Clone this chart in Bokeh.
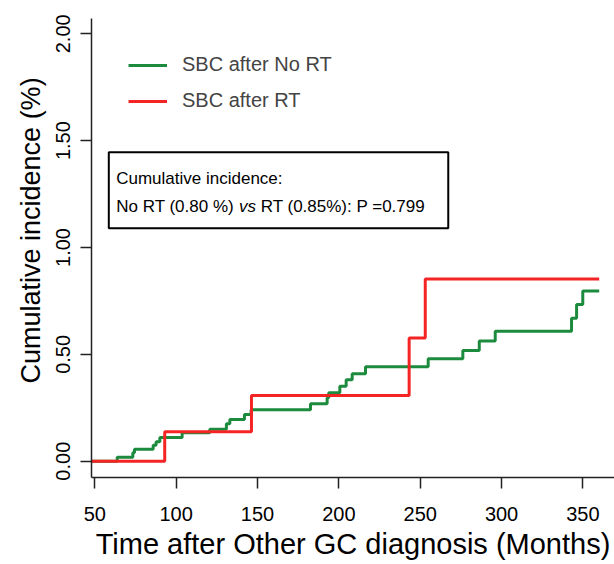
from bokeh.plotting import figure
from bokeh.models import (Range1d, FixedTicker, NumeralTickFormatter, Legend, LegendItem,
                          BoxAnnotation, Label, Title)
from bokeh.embed import file_html
from bokeh.resources import INLINE

# ---------------- data ----------------
green_time = [0, 63.8, 73.4, 74.4, 85.9, 87.7, 90.0, 103.7, 120.7, 130.9, 133.0, 142.0, 146.1,
              182.6, 192.8, 193.8, 200.6, 204.5, 208.2, 216.4, 254.9, 276.2, 286.3, 296.1,
              343.0, 346.1, 349.9, 360]
green_ci = [0, 0.019, 0.039, 0.056, 0.075, 0.091, 0.111, 0.133, 0.150, 0.175, 0.195, 0.219, 0.241,
            0.269, 0.297, 0.320, 0.351, 0.381, 0.409, 0.442, 0.479, 0.518, 0.563, 0.608,
            0.669, 0.733, 0.797, 0.797]
red_time = [0, 93.0, 146.3, 243.2, 253.1, 360]
red_ci = [0, 0.138, 0.307, 0.576, 0.853, 0.853]

x_ticks = [50, 100, 150, 200, 250, 300, 350]
y_ticks = [0.0, 0.5, 1.0, 1.5, 2.0]
series_labels = ["SBC after No RT", "SBC after RT"]
box_line1 = "Cumulative incidence:"
box_line2 = ["No RT (0.80 %)", "vs", "RT (0.85%): P =0.799"]
x_title = "Time after Other GC diagnosis (Months)"
y_title = "Cumulative incidence (%)"

FONT = "Liberation Sans"
GREEN = "#1d8b3e"
RED = "#f52424"
AXIS = "#222222"

p = figure(width=614, height=564, output_backend="svg", toolbar_location=None,
           x_range=Range1d(48.0, 369.4), y_range=Range1d(-0.0763, 2.0716),
           min_border_left=91, min_border_right=0, min_border_top=18, min_border_bottom=87)
p.outline_line_color = None
p.grid.visible = False
p.background_fill_color = "white"

for ax in (p.xaxis, p.yaxis):
    ax.axis_line_color = AXIS
    ax.axis_line_width = 1.5
    ax.major_tick_line_color = AXIS
    ax.major_tick_line_width = 1.5
    ax.major_tick_out = 11
    ax.major_tick_in = 0
    ax.minor_tick_line_color = None
    ax.major_label_text_font = FONT
    ax.major_label_text_font_size = "20px"
    ax.major_label_text_color = "black"

p.xaxis.ticker = FixedTicker(ticks=x_ticks)
p.xaxis.major_label_standoff = 18
p.yaxis.ticker = FixedTicker(ticks=y_ticks)
p.yaxis.formatter = NumeralTickFormatter(format="0.00")
p.yaxis.major_label_orientation = "vertical"
p.yaxis.major_label_standoff = 10

g = p.step(green_time, green_ci, mode="after", line_color=GREEN, line_width=3)
r = p.step(red_time, red_ci, mode="after", line_color=RED, line_width=3)

legend = Legend(items=[LegendItem(label=series_labels[0], renderers=[g]),
                       LegendItem(label=series_labels[1], renderers=[r])],
                location=(37, 365), orientation="vertical",
                padding=0, margin=0, spacing=13, glyph_width=39, glyph_height=20,
                label_standoff=15, label_text_font=FONT, label_text_font_size="20px",
                border_line_color=None, background_fill_alpha=0)
p.add_layout(legend, "center")

box = BoxAnnotation(left=58.63, right=267.24, bottom=1.0903, top=1.446,
                    fill_alpha=0, line_color="black", line_alpha=1, line_width=2)
p.add_layout(box)

tx = 63.18
p.add_layout(Label(x=tx, y=1.3215, text=box_line1, text_font=FONT, text_font_size="17px",
                   text_baseline="alphabetic", text_color="black"))
offs = [0, 122.8, 144.5]
styles = ["normal", "italic", "normal"]
for part, off, st in zip(box_line2, offs, styles):
    p.add_layout(Label(x=tx, y=1.1918, x_offset=off, text=part, text_font=FONT,
                       text_font_size="17px", text_font_style=st,
                       text_baseline="alphabetic", text_color="black"))

p.add_layout(Title(text=x_title, align="center", text_font=FONT, text_font_size="29px",
                   text_font_style="normal", text_color="black", standoff=5), "below")
# small spacer panel between the y axis and its title
p.add_layout(Title(text=" ", text_font_size="6px", standoff=0), "left")
p.add_layout(Title(text=y_title, align="left", offset=94, text_font=FONT,
                   text_font_size="27px", text_font_style="normal", text_color="black",
                   standoff=0), "left")

open("out.html", "w").write(file_html(p, INLINE))
